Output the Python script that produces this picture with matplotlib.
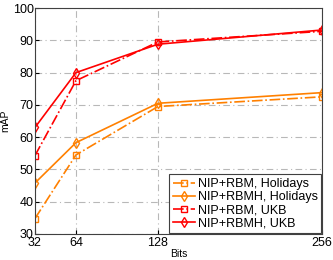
import matplotlib
matplotlib.use('Agg')
import matplotlib.pyplot as plt

plt.rcParams['font.family'] = ['Liberation Sans', 'DejaVu Sans']

bits = [32, 64, 128, 256]
rbm_holidays = [34.8, 54.5, 69.5, 72.5]
rbmh_holidays = [45.8, 58.3, 70.5, 73.8]
rbm_ukb = [54.3, 77.5, 89.5, 92.8]
rbmh_ukb = [63.0, 80.0, 88.8, 93.2]
labels = ['NIP+RBM, Holidays', 'NIP+RBMH, Holidays', 'NIP+RBM, UKB', 'NIP+RBMH, UKB']

orange = '#ff8000'
red = '#ff0000'

fig = plt.figure(figsize=(3.33, 2.6), dpi=100)
ax = fig.add_axes([0.105, 0.1, 0.862, 0.869])

ax.plot(bits, rbm_holidays, '-.', color=orange, marker='s', mfc='none', ms=4, lw=1.2, label=labels[0])
ax.plot(bits, rbmh_holidays, '-', color=orange, marker='d', mfc='none', ms=5, lw=1.2, label=labels[1])
ax.plot(bits, rbm_ukb, '-.', color=red, marker='s', mfc='none', ms=4, lw=1.2, label=labels[2])
ax.plot(bits, rbmh_ukb, '-', color=red, marker='d', mfc='none', ms=5, lw=1.2, label=labels[3])

ax.set_xlim(32, 256)
ax.set_ylim(30, 100)
ax.set_xticks(bits)
ax.set_yticks(range(30, 101, 10))
ax.tick_params(labelsize=9, direction='in', length=3)
ax.tick_params(axis='x', pad=2.5)
ax.tick_params(axis='y', pad=1)
ax.grid(True, linestyle=(0, (6, 3, 1, 3)), color='#b8b8b8', lw=0.8)
ax.set_xlabel('Bits', fontsize=7.5, labelpad=0)
ax.set_ylabel('mAP', fontsize=7.5, labelpad=2)
for s in ax.spines.values():
    s.set_color('#404040')
    s.set_linewidth(0.8)

leg = ax.legend(loc='lower right', fontsize=9, handlelength=1.8, handletextpad=0.2,
                borderpad=0.3, labelspacing=0.1, fancybox=False, framealpha=1,
                borderaxespad=0.05)
leg.get_frame().set_edgecolor('#404040')
leg.get_frame().set_linewidth(0.8)

fig.savefig('out.png', dpi=100)
